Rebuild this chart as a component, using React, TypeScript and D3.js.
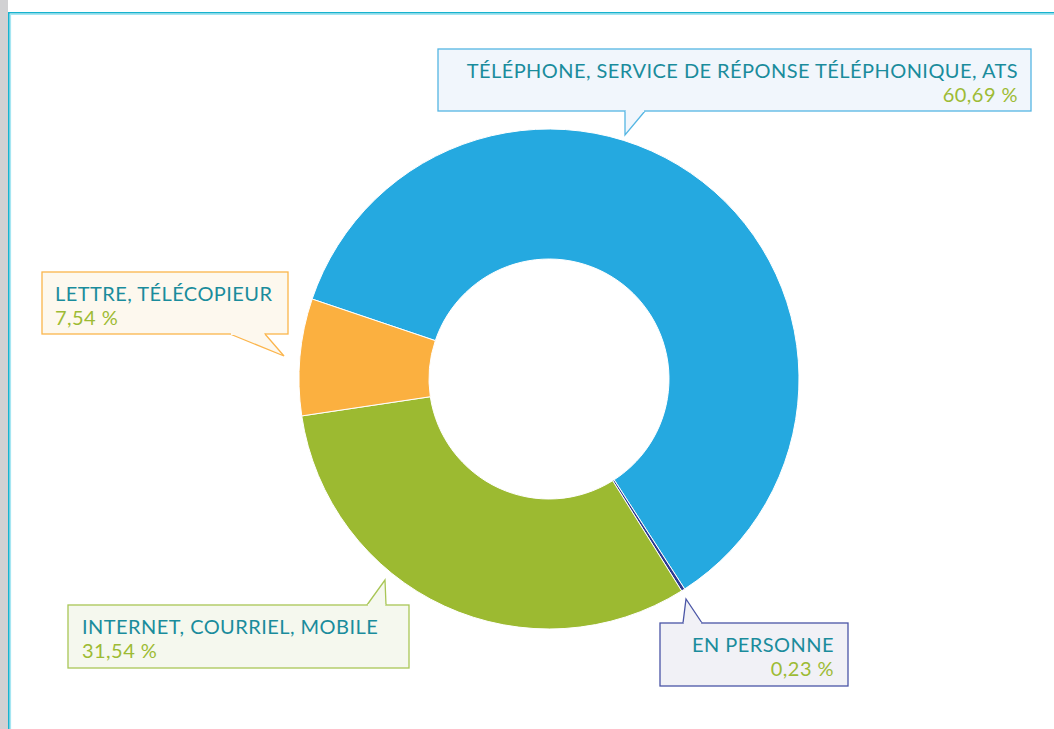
import { useEffect, useRef } from "react";
import * as d3 from "d3";

const categories = [
  "TÉLÉPHONE, SERVICE DE RÉPONSE TÉLÉPHONIQUE, ATS",
  "EN PERSONNE",
  "INTERNET, COURRIEL, MOBILE",
  "LETTRE, TÉLÉCOPIEUR",
];
const shares = [60.69, 0.23, 31.54, 7.54];
const shareLabels = ["60,69 %", "0,23 %", "31,54 %", "7,54 %"];
const colors = ["#25a9e0", "#2b3990", "#9cba31", "#fbb040"];

// callout boxes: [x, y, w, h], text anchor, pointer polygon
const callouts = [
  { box: [438, 49, 593, 62], align: "end", tx: 1018, fill: "#f1f6fc", stroke: "#55b6e3",
    ptr: [[625, 111], [625, 135], [645, 111]] },
  { box: [660, 623, 188, 63], align: "end", tx: 834, fill: "#f1f1f6", stroke: "#4a55a6",
    ptr: [[683, 623], [686, 599], [702, 623]] },
  { box: [68, 605, 341, 63], align: "start", tx: 82, fill: "#f5f8ee", stroke: "#a9c656",
    ptr: [[367, 605], [385, 580], [386, 605]] },
  { box: [42, 272, 246, 62], align: "start", tx: 55, fill: "#fdf8ee", stroke: "#fbb54c",
    ptr: [[230, 334], [284, 356], [265, 334]] },
];

export default function App() {
  const svgRef = useRef<SVGSVGElement | null>(null);

  useEffect(() => {
    if (!svgRef.current) return;
    const width = 1054;
    const height = 729;
    const cx = 549;
    const cy = 379;
    const outerR = 250;
    const innerR = 120;

    const svg = d3.select(svgRef.current);
    svg.selectAll("*").remove();
    svg.attr("width", width).attr("height", height);

    svg.append("rect").attr("width", width).attr("height", height).attr("fill", "#fff");
    svg.append("rect").attr("x", 0).attr("y", 0).attr("width", 8).attr("height", height).attr("fill", "#d1d1d3");
    svg.append("path")
      .attr("d", `M10.5,${height} V14.5 H${width}`)
      .attr("fill", "none").attr("stroke", "#a6e6f2").attr("stroke-width", 1.2);
    svg.append("path")
      .attr("d", `M8.8,${height} V12.8 H${width}`)
      .attr("fill", "none").attr("stroke", "#17b3cf").attr("stroke-width", 1.6);

    const start = (-71.35 * Math.PI) / 180;
    const pie = d3.pie<number>().sort(null).value(d => d)
      .startAngle(start).endAngle(start + 2 * Math.PI);
    const arc = d3.arc<d3.PieArcDatum<number>>().innerRadius(innerR).outerRadius(outerR);

    const g = svg.append("g").attr("transform", `translate(${cx},${cy})`);
    g.selectAll("path.slice")
      .data(pie(shares))
      .join("path")
      .attr("class", "slice")
      .attr("d", arc)
      .attr("fill", (_, i) => colors[i])
      .attr("stroke", "#fff")
      .attr("stroke-width", 1);

    callouts.forEach((c, i) => {
      const [x, y, w, h] = c.box;
      const cg = svg.append("g");
      cg.append("rect")
        .attr("x", x).attr("y", y).attr("width", w).attr("height", h)
        .attr("fill", c.fill).attr("stroke", c.stroke).attr("stroke-width", 1.3);
      const p = c.ptr;
      cg.append("path")
        .attr("d", `M${p[0][0]},${p[0][1]} L${p[1][0]},${p[1][1]} L${p[2][0]},${p[2][1]}`)
        .attr("fill", c.fill).attr("stroke", c.stroke).attr("stroke-width", 1.3);
      cg.append("line")
        .attr("x1", p[0][0] + 0.8).attr("x2", p[2][0] - 0.8)
        .attr("y1", p[0][1]).attr("y2", p[2][1])
        .attr("stroke", c.fill).attr("stroke-width", 2);
      const font = (t: d3.Selection<SVGTextElement, unknown, null, undefined>) =>
        t.attr("text-anchor", c.align)
          .attr("font-family", "Lato, 'Open Sans', sans-serif")
          .attr("font-size", 20)
          .attr("letter-spacing", 0.45);
      cg.append("text")
        .attr("x", c.tx).attr("y", y + 29)
        .call(font)
        .attr("fill", "#1a8c9c")
        .text(categories[i]);
      cg.append("text")
        .attr("x", c.tx).attr("y", y + 53)
        .call(font)
        .attr("fill", "#9dbb34")
        .text(shareLabels[i]);
    });
  }, []);

  return (
    <div style={{ position: "absolute", left: 0, top: 0 }}>
      <svg ref={svgRef} style={{ display: "block" }} />
    </div>
  );
}
